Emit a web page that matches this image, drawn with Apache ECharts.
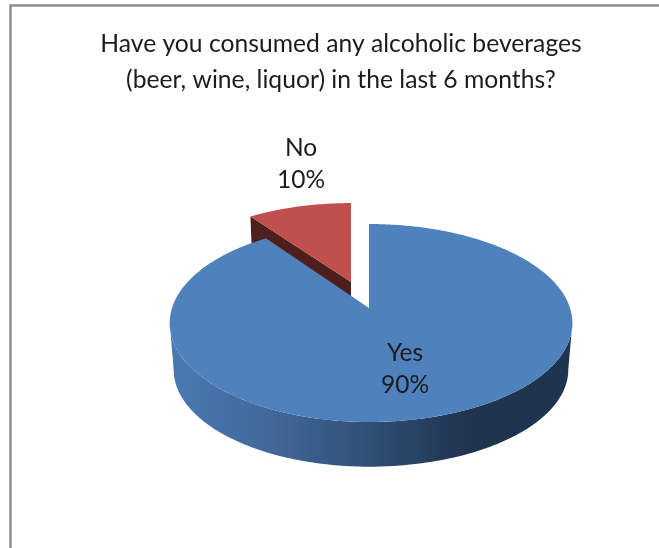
<!DOCTYPE html>
<html><head><meta charset="utf-8">
<style>html,body{margin:0;padding:0;background:#fff}#c{width:659px;height:548px}</style>
<script src="https://cdn.jsdelivr.net/npm/echarts@6/dist/echarts.min.js"></script>
</head><body><div id="c"></div>
<script>
const categories = ['Yes', 'No'];
const values = [90, 10];
const titleLines = ['Have you consumed any alcoholic beverages', '(beer, wine, liquor) in the last 6 months?'];

const FONT = 'Lato, "Open Sans", sans-serif';
const K = 0.1515, RY = 96.7, RL = 197, RR = 201, DEPTH = 47, SHRINK = 0.98;
const sliceLayout = [
  {ax: 369, ay: 308, sx: 1, sy: 1, top: '#4f81bd', cut: null, lx: 405, ly: 369},
  {ax: 351, ay: 282, sx: 0.975, sy: 0.94, top: '#c0504d', cut: '#4e1e1c', lx: 301, ly: 164}
];
const total = values.reduce((a, b) => a + b, 0);
function rim(th, l, scale, dy) {
  const d = 1 + K * Math.cos(th), s = Math.sin(th);
  return [l.ax + (s < 0 ? RL : RR) * s / d * l.sx * scale,
          l.ay + dy - RY * Math.cos(th) / d * l.sy * scale];
}
function arc(a, b, l, scale, dy) {
  const n = Math.max(2, Math.ceil(Math.abs(b - a) / 0.01)), out = [];
  for (let i = 0; i <= n; i++) out.push(rim(a + (b - a) * i / n, l, scale, dy));
  return out;
}
const sideGradient = new echarts.graphic.LinearGradient(0, 0, 1, 0, [
  {offset: 0, color: '#4a79b2'}, {offset: 0.25, color: '#41689a'},
  {offset: 0.5, color: '#2f4f75'}, {offset: 0.74, color: '#1f344f'}, {offset: 1, color: '#1f344f'}
]);
const angleOf = i => values.slice(0, i).reduce((a, b) => a + b, 0) / total * 2 * Math.PI;

function renderSlice(params, api) {
  const i = params.dataIndex, l = sliceLayout[i];
  const a = angleOf(i), b = a + api.value(0) / total * 2 * Math.PI;
  const base = i === 0 ? 10 : 0, kids = [];
  const poly = (pts, fill, z2) => ({type: 'polygon', z2, shape: {points: pts}, style: {fill}});
  if (l.cut) {
    kids.push(poly([[l.ax, l.ay], rim(a, l, 1, 0), rim(a, l, SHRINK, DEPTH), [l.ax, l.ay + DEPTH]], l.cut, base));
  } else {
    const w = Math.acos(-K);
    kids.push(poly(arc(w, 2 * Math.PI - w, l, 1, 0).concat(arc(2 * Math.PI - w, w, l, SHRINK, DEPTH)), sideGradient, base));
  }
  kids.push(poly([[l.ax, l.ay]].concat(arc(a, b, l, 1, 0)), l.top, base + 1));
  kids.push({type: 'text', z2: 50, x: l.lx, y: l.ly, style: {
    text: categories[i] + '\n' + Math.round(api.value(0) / total * 100) + '%',
    font: '24.5px ' + FONT, lineHeight: 32, fill: '#1c1c1c', align: 'center', verticalAlign: 'middle'
  }});
  return {type: 'group', children: kids};
}
const chart = echarts.init(document.getElementById('c'), null, {renderer: 'canvas'});
chart.setOption({
  animation: false,
  backgroundColor: '#ffffff',
  title: {
    text: titleLines.join('\n'), left: 336, top: 21, textAlign: 'center',
    textStyle: {fontFamily: FONT, fontSize: 24.7, fontWeight: 'normal', color: '#1c1c1c', lineHeight: 36}
  },
  graphic: [{type: 'polyline', silent: true,
    shape: {points: [[10.5, 548], [10.5, 5.5], [659, 5.5]]},
    style: {stroke: '#8c8c8c', lineWidth: 2.5, fill: 'none'}}],
  series: [{type: 'custom', coordinateSystem: 'none', renderItem: renderSlice, data: values, clip: false}]
});
</script></body></html>
